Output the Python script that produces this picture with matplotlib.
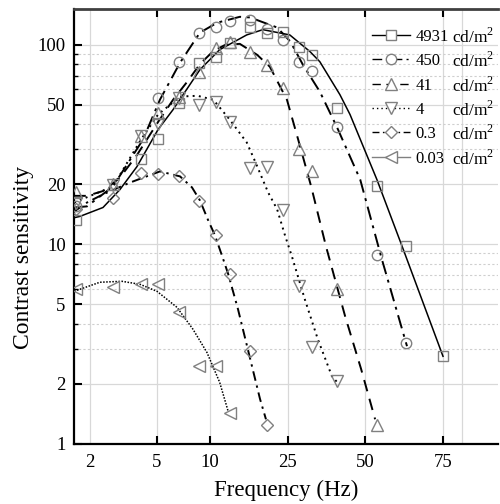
import numpy as np
import matplotlib
matplotlib.use("Agg")
import matplotlib.pyplot as plt
from matplotlib.lines import Line2D
from matplotlib.ticker import LogLocator, NullFormatter, FixedLocator

plt.rcParams['font.family'] = ['Liberation Serif', 'DejaVu Serif']
plt.rcParams['mathtext.fontset'] = 'custom'
plt.rcParams['mathtext.rm'] = 'Liberation Serif'

# ---------------- data ----------------
labels = ["4931", "450", "41", "4", "0.3", "0.03"]
unit = "cd/m$^2$"

F4931 = [1.65, 4.0, 5.07, 6.67, 8.66, 10.7, 12.6, 16.0, 19.5, 23.5, 27.6, 31.0, 38.9, 53.2, 61.9, 75.0]
S4931 = [13.3, 26.9, 33.9, 51.3, 81.3, 87.1, 102, 123, 115, 116, 97.7, 89.1, 48.4, 19.5, 9.77, 2.75]

F450 = [1.65, 5.07, 6.67, 8.66, 10.7, 12.6, 16.0, 19.5, 23.5, 27.6, 31.0, 38.9, 53.2, 61.9]
S450 = [15.5, 54.3, 82.2, 115, 122, 132, 133, 120, 105, 82.2, 74.1, 38.5, 8.81, 3.2]

F41 = [1.65, 2.74, 4.0, 5.07, 6.67, 8.66, 10.7, 12.6, 16.0, 19.5, 23.5, 27.6, 31.0, 38.9, 53.2]
S41 = [18.2, 20.0, 34.7, 45.7, 55.0, 73.3, 96.6, 103, 92.2, 79.4, 61.0, 29.9, 23.2, 5.96, 1.24]

F4 = [1.65, 2.74, 4.0, 5.07, 6.67, 8.66, 10.7, 12.6, 16.0, 19.5, 23.5, 27.6, 31.0, 38.9]
S4 = [16.2, 19.9, 34.7, 40.3, 54.0, 50.1, 51.9, 41.2, 24.0, 24.5, 14.8, 6.17, 3.05, 2.07]

F03 = [1.65, 2.74, 4.0, 5.07, 6.67, 8.66, 10.7, 12.6, 16.0, 19.5]
S03 = [15.0, 17.0, 22.9, 22.4, 21.9, 16.4, 11.1, 7.08, 2.92, 1.24]

F003 = [1.65, 2.74, 4.0, 5.07, 6.67, 8.66, 10.7, 12.6]
S003 = [5.96, 6.1, 6.3, 6.3, 4.57, 2.45, 2.45, 1.43]

# fitted curves
C4931_F = [1.61, 1.74, 2.39, 3.01, 3.80, 5.07, 6.17, 8.77, 11.2, 15.4, 18.6, 25.4, 30.5, 33.3, 39.9, 43.7, 53.2, 61.0, 75.0]
C4931_S = [13.6, 13.8, 15.3, 18.8, 24.5, 37.6, 47.3, 75, 94.4, 112, 119, 112, 92.3, 82.2, 56.2, 44.7, 21.1, 9.44, 2.75]

C450_F = [1.61, 1.92, 2.74, 4.13, 5.2, 6.76, 8.77, 10.9, 14.2, 16.0, 22.0, 25.5, 28.6, 33.3, 38.9, 47.9, 54.6, 62.2]
C450_S = [15.3, 15.5, 19.5, 33.5, 53.1, 81.3, 115, 129, 138, 137, 122, 104, 79.4, 58.2, 38.5, 21.1, 8.4, 3.09]

C41_F = [1.61, 1.92, 2.39, 3.0, 3.8, 5.07, 6.17, 7.5, 8.77, 10.4, 12.0, 14.2, 17.4, 20.2, 24.7, 27.4, 30.8, 35.2, 41.8, 48.3, 52.7]
C41_S = [17.5, 17.5, 18.5, 21.5, 28, 41, 53, 66, 80, 93, 100, 101, 89, 77.6, 53, 33.5, 19.5, 9.77, 4.37, 2.37, 1.33]

C4_F = [1.61, 2.74, 4.02, 5.07, 6.76, 8.5, 10.4, 12.6, 15.4, 17.0, 19.8, 22.0, 24.2, 25.9, 29.1, 32.7, 37.1, 38.9]
C4_S = [16.2, 19.5, 33.5, 44.7, 55, 55.5, 53, 42.2, 32.4, 26, 18.2, 15, 11, 8.7, 5.3, 3.35, 2.19, 2.04]

C03_F = [1.61, 1.92, 2.39, 3.46, 5.2, 6.76, 7.9, 8.77, 9.73, 10.6, 11.6, 12.4, 13.9, 15.6, 18.0, 19.3]
C03_S = [14.6, 16.2, 17.8, 20.4, 23.2, 21.9, 19.3, 16.6, 13.3, 11.1, 8.6, 7.08, 4.73, 2.98, 1.68, 1.33]

C003_F = [1.61, 2.29, 3.1, 3.96, 5.0, 6.49, 8.0, 9.6, 11.2, 12.4]
C003_S = [5.82, 6.46, 6.53, 6.31, 5.82, 4.84, 3.76, 2.88, 2.04, 1.45]

x_ticks = [2, 5, 10, 25, 50, 75]
x_extra_grid = [83]
y_ticks = [1, 2, 5, 10, 20, 50, 100]

# ---------------- x-axis scale of the original figure ----------------
XK_F = np.log10([1, 2, 5, 10, 25, 50, 75, 100])
XK_P = np.array([39.4, 90, 157, 210, 288, 365, 443, 498])


def fwd(f):
    f = np.asarray(f, dtype=float)
    return np.interp(np.log10(np.clip(f, 1e-3, None)), XK_F, XK_P)


def inv(p):
    p = np.asarray(p, dtype=float)
    return 10 ** np.interp(p, XK_P, XK_F)


fig = plt.figure(figsize=(5.0, 5.04), dpi=100)
ax = fig.add_axes([74 / 500, 1 - 444 / 504, (498 - 74) / 500, (444 - 9) / 504])
ax.set_xscale('function', functions=(fwd, inv))
ax.set_yscale('log')

series = [
    (F4931, S4931, C4931_F, C4931_S, 's', 6.5, '-', 1.1),
    (F450, S450, C450_F, C450_S, 'o', 7.5, (0, (7, 3, 1.5, 3)), 1.4),
    (F41, S41, C41_F, C41_S, '^', 8, (0, (6, 4)), 1.4),
    (F4, S4, C4_F, C4_S, 'v', 8, (0, (1, 2.2)), 1.4),
    (F03, S03, C03_F, C03_S, 'D', 6, (0, (5, 2.5, 1.2, 2.5)), 1.4),
    (F003, S003, C003_F, C003_S, '<', 8, (0, (1, 1)), 1.1),
]
mcol = '#808080'
handles = []
for (fx, sy, cf, cs, mk, ms, ls, lw) in series:
    ax.plot(cf, cs, color='black', lw=lw, linestyle=ls, zorder=3)
    ax.plot(fx, sy, linestyle='none', marker=mk, ms=ms, mfc='none',
            mec=mcol, mew=1.0, zorder=4)
    handles.append(Line2D([0, 1], [0, 1], color='black' if mk != '<' else '#808080',
                          lw=1.0, linestyle=ls if mk != '<' else '-',
                          marker=mk, ms=ms, mfc='white', mec=mcol, mew=1.0))

ax.set_xlim(1.607, 100)
ax.set_ylim(1, 151)

ax.xaxis.set_major_locator(FixedLocator(x_ticks))
ax.set_xticklabels([str(t) for t in x_ticks])
ax.xaxis.set_minor_locator(FixedLocator([]))
ax.yaxis.set_major_locator(FixedLocator(y_ticks))
ax.set_yticklabels([str(t) for t in y_ticks])
ax.yaxis.set_minor_locator(LogLocator(base=10, subs=np.arange(2, 10)))
ax.yaxis.set_minor_formatter(NullFormatter())

ax.grid(True, which='major', color='#d8d8d8', lw=0.9, zorder=0)
ax.grid(True, which='minor', axis='y', color='#cfcfcf', lw=0.8, linestyle=(0, (2, 2)), zorder=0)
for g in x_extra_grid:
    ax.axvline(g, color='#d8d8d8', lw=0.9, zorder=0)
ax.set_axisbelow(True)

ax.tick_params(axis='x', which='major', direction='in', top=True, bottom=True,
               length=6, width=1.5, labelsize=13.5, pad=7)
ax.tick_params(axis='y', which='major', direction='in', left=True, right=False,
               length=6, width=1.5, labelsize=13.5, pad=6)
ax.tick_params(axis='y', which='minor', direction='in', left=True, right=False,
               length=3, width=1.0)
xt = ax.xaxis.get_major_ticks()
xt[0].tick1line.set_visible(False)
xt[0].tick2line.set_visible(False)

for s in ['left', 'bottom']:
    ax.spines[s].set_linewidth(1.6)
    ax.spines[s].set_color('black')
ax.spines['top'].set_linewidth(2.0)
ax.spines['top'].set_color('#404040')
ax.spines['right'].set_visible(False)

ax.set_xlabel('Frequency (Hz)', fontsize=16.5)
ax.set_ylabel('Contrast sensitivity', fontsize=17)
ax.xaxis.set_label_coords(0.5, -0.083)
ax.yaxis.set_label_coords(-0.094, 0.43)

leg = ax.legend(handles, labels, loc='upper left', bbox_to_anchor=(372 / 500, 1 - 29 / 504),
                bbox_transform=fig.transFigure, frameon=False, fontsize=12,
                handlelength=2.3, handletextpad=0.3, labelspacing=0.5,
                borderpad=0.0, borderaxespad=0)

fig.canvas.draw()
r = fig.canvas.get_renderer()
for t in leg.get_texts():
    bb = t.get_window_extent(r)
    yc = (bb.y0 + bb.y1) / 2 / fig.bbox.height
    fig.text(452 / 500, yc, unit, fontsize=12.5, va='center', ha='left')

fig.savefig('out.png', dpi=100)
